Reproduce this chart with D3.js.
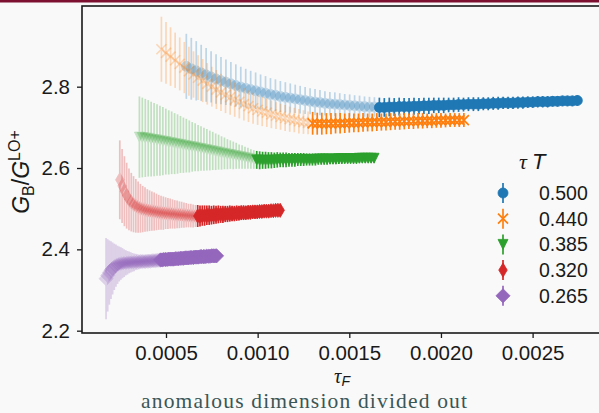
<!DOCTYPE html>
<html><head><meta charset="utf-8">
<script src="https://cdn.jsdelivr.net/npm/d3@7"></script>
<style>html,body{margin:0;padding:0;background:#f9f9f9;}svg{display:block;}</style>
</head><body>
<svg id="chart" width="599" height="413"></svg>
<script>
// ---------------- data (tau_F in units of 1e-4) ----------------
const tauTLabels = ["0.500", "0.440", "0.385", "0.320", "0.265"];
const xTicks = [0.0005, 0.0010, 0.0015, 0.0020, 0.0025];
const yTicks = [2.2, 2.4, 2.6, 2.8];
// points with tau_F >= solidFrom are drawn opaque, the others faded
const solidFrom = [16.6, 12.9, 9.9, 6.7, 4.65];

const tauF500 = [6.11,6.38,6.65,6.92,7.19,7.46,7.73,8.00,8.27,8.54,8.81,9.08,9.35,9.62,9.89,10.16,10.43,10.70,10.97,11.24,11.51,11.78,12.05,12.32,12.59,12.86,13.13,13.40,13.67,13.94,14.21,14.48,14.75,15.02,15.29,15.56,15.83,16.10,16.37,16.64,16.91,17.18,17.45,17.72,17.99,18.26,18.53,18.80,19.07,19.34,19.61,19.88,20.15,20.42,20.69,20.96,21.23,21.50,21.77,22.04,22.31,22.58,22.85,23.12,23.39,23.66,23.93,24.20,24.47,24.74,25.01,25.28,25.55,25.82,26.09,26.36,26.63,26.90,27.17,27.44];
const ratio500 = [2.850,2.844,2.839,2.834,2.829,2.824,2.819,2.815,2.811,2.807,2.803,2.799,2.796,2.793,2.790,2.787,2.784,2.781,2.779,2.776,2.774,2.772,2.770,2.768,2.766,2.764,2.762,2.761,2.759,2.758,2.757,2.756,2.755,2.754,2.753,2.752,2.751,2.750,2.750,2.749,2.749,2.750,2.750,2.751,2.751,2.751,2.752,2.752,2.753,2.753,2.754,2.754,2.754,2.755,2.755,2.756,2.756,2.757,2.757,2.757,2.758,2.758,2.759,2.759,2.760,2.760,2.760,2.761,2.761,2.762,2.762,2.763,2.763,2.763,2.764,2.764,2.765,2.765,2.765,2.766];
const err500 = [.080,.076,.073,.069,.066,.063,.061,.058,.056,.054,.052,.050,.048,.046,.045,.043,.042,.040,.039,.038,.037,.036,.035,.034,.033,.032,.032,.031,.030,.029,.029,.028,.027,.027,.026,.026,.025,.025,.024,.024,.023,.023,.022,.022,.021,.021,.021,.020,.020,.020,.019,.019,.019,.018,.018,.018,.017,.017,.017,.017,.016,.016,.016,.016,.015,.015,.015,.015,.015,.014,.014,.014,.014,.014,.013,.013,.013,.013,.013,.013];

const tauF440 = [4.75,5.00,5.25,5.50,5.75,6.00,6.25,6.50,6.75,7.00,7.25,7.50,7.75,8.00,8.25,8.50,8.75,9.00,9.25,9.50,9.75,10.00,10.25,10.50,10.75,11.00,11.25,11.50,11.75,12.00,12.25,12.50,12.75,13.00,13.25,13.50,13.75,14.00,14.25,14.50,14.75,15.00,15.25,15.50,15.75,16.00,16.25,16.50,16.75,17.00,17.25,17.50,17.75,18.00,18.25,18.50,18.75,19.00,19.25,19.50,19.75,20.00,20.25,20.50,20.75,21.00,21.25];
const ratio440 = [2.892,2.883,2.874,2.865,2.856,2.847,2.838,2.830,2.822,2.815,2.807,2.800,2.793,2.786,2.780,2.774,2.768,2.763,2.757,2.752,2.747,2.743,2.739,2.736,2.732,2.729,2.726,2.723,2.720,2.718,2.715,2.713,2.711,2.710,2.709,2.709,2.709,2.709,2.710,2.710,2.710,2.711,2.711,2.711,2.712,2.712,2.712,2.713,2.713,2.713,2.714,2.714,2.714,2.715,2.715,2.715,2.716,2.716,2.716,2.716,2.717,2.717,2.717,2.718,2.718,2.718,2.718];
const err440 = [.080,.076,.072,.068,.065,.063,.060,.057,.055,.053,.051,.049,.048,.046,.045,.043,.042,.041,.040,.039,.038,.037,.036,.035,.034,.033,.032,.032,.031,.030,.030,.029,.028,.028,.027,.027,.026,.026,.025,.025,.024,.024,.023,.023,.023,.022,.022,.022,.021,.021,.021,.020,.020,.020,.019,.019,.019,.019,.018,.018,.018,.018,.017,.017,.017,.017,.017];

const tauF385 = [3.55,3.71,3.87,4.03,4.19,4.35,4.51,4.67,4.83,4.99,5.15,5.31,5.47,5.63,5.79,5.95,6.11,6.27,6.43,6.59,6.75,6.91,7.07,7.23,7.39,7.55,7.71,7.87,8.03,8.19,8.35,8.51,8.67,8.83,8.99,9.15,9.31,9.47,9.63,9.79,9.95,10.11,10.27,10.43,10.59,10.75,10.91,11.07,11.23,11.39,11.55,11.71,11.87,12.03,12.19,12.35,12.51,12.67,12.83,12.99,13.15,13.31,13.47,13.63,13.79,13.95,14.11,14.27,14.43,14.59,14.75,14.91,15.07,15.23,15.39,15.55,15.71,15.87,16.03,16.19,16.35];
const ratio385 = [2.676,2.675,2.674,2.673,2.671,2.670,2.669,2.667,2.666,2.665,2.663,2.662,2.660,2.659,2.658,2.656,2.655,2.653,2.652,2.651,2.649,2.648,2.646,2.645,2.643,2.642,2.640,2.639,2.637,2.636,2.634,2.633,2.631,2.630,2.628,2.627,2.625,2.624,2.622,2.621,2.620,2.619,2.619,2.619,2.619,2.619,2.619,2.620,2.620,2.620,2.620,2.620,2.620,2.620,2.621,2.621,2.621,2.621,2.621,2.621,2.621,2.622,2.622,2.622,2.622,2.622,2.622,2.622,2.623,2.623,2.623,2.623,2.623,2.623,2.623,2.624,2.624,2.624,2.624,2.624,2.624];
const err385 = [.100,.098,.096,.094,.092,.090,.088,.086,.084,.081,.079,.077,.075,.073,.070,.068,.066,.064,.061,.059,.057,.055,.053,.051,.049,.047,.045,.043,.041,.039,.037,.035,.034,.032,.030,.029,.027,.026,.024,.023,.022,.022,.021,.021,.020,.020,.019,.019,.018,.018,.018,.017,.017,.017,.016,.016,.016,.015,.015,.015,.015,.014,.014,.014,.014,.013,.013,.013,.013,.013,.012,.012,.012,.012,.012,.012,.011,.011,.011,.011,.011];

const tauF320 = [2.480,2.605,2.730,2.855,2.980,3.105,3.230,3.355,3.480,3.605,3.730,3.855,3.980,4.105,4.230,4.355,4.480,4.605,4.730,4.855,4.980,5.105,5.230,5.355,5.480,5.605,5.730,5.855,5.980,6.105,6.230,6.355,6.480,6.605,6.730,6.855,6.980,7.105,7.230,7.355,7.480,7.605,7.730,7.855,7.980,8.105,8.230,8.355,8.480,8.605,8.730,8.855,8.980,9.105,9.230,9.355,9.480,9.605,9.730,9.855,9.980,10.105,10.230,10.355,10.480,10.605,10.730,10.855,10.980,11.105,11.230];
const ratio320 = [2.571,2.556,2.543,2.532,2.523,2.516,2.511,2.507,2.504,2.501,2.499,2.498,2.496,2.495,2.494,2.493,2.492,2.491,2.490,2.489,2.489,2.488,2.488,2.487,2.486,2.486,2.485,2.485,2.484,2.484,2.483,2.483,2.482,2.482,2.482,2.482,2.483,2.483,2.484,2.484,2.484,2.485,2.485,2.486,2.486,2.486,2.487,2.487,2.488,2.488,2.488,2.489,2.489,2.490,2.490,2.490,2.491,2.491,2.492,2.492,2.492,2.493,2.493,2.494,2.494,2.494,2.495,2.495,2.496,2.496,2.496];
const err320 = [.097,.091,.086,.081,.076,.072,.069,.066,.063,.060,.057,.055,.052,.050,.048,.047,.045,.043,.042,.041,.039,.038,.037,.036,.035,.034,.033,.032,.031,.030,.029,.029,.028,.027,.027,.026,.025,.025,.024,.024,.023,.023,.022,.022,.021,.021,.020,.020,.020,.019,.019,.019,.018,.018,.018,.017,.017,.017,.016,.016,.016,.016,.015,.015,.015,.015,.014,.014,.014,.014,.014];

const tauF265 = [1.73,1.82,1.91,2.00,2.09,2.18,2.27,2.36,2.45,2.54,2.63,2.72,2.81,2.90,2.99,3.08,3.17,3.26,3.35,3.44,3.53,3.62,3.71,3.80,3.89,3.98,4.07,4.16,4.25,4.34,4.43,4.52,4.61,4.70,4.79,4.88,4.97,5.06,5.15,5.24,5.33,5.42,5.51,5.60,5.69,5.78,5.87,5.96,6.05,6.14,6.23,6.32,6.41,6.50,6.59,6.68,6.77,6.86,6.95,7.04,7.13,7.22,7.31,7.40,7.49,7.58,7.67,7.76];
const ratio265 = [2.328,2.336,2.343,2.349,2.353,2.357,2.360,2.362,2.364,2.365,2.366,2.366,2.367,2.367,2.368,2.368,2.368,2.368,2.369,2.369,2.369,2.370,2.370,2.370,2.370,2.371,2.371,2.371,2.372,2.372,2.372,2.373,2.373,2.374,2.374,2.375,2.375,2.375,2.376,2.376,2.376,2.376,2.377,2.377,2.377,2.378,2.378,2.378,2.379,2.379,2.379,2.380,2.380,2.380,2.381,2.381,2.381,2.382,2.382,2.382,2.382,2.383,2.383,2.383,2.384,2.384,2.384,2.384];
const err265 = [.100,.089,.079,.071,.064,.057,.052,.047,.043,.040,.037,.034,.031,.029,.027,.025,.023,.022,.020,.019,.018,.017,.016,.015,.014,.014,.013,.012,.012,.011,.010,.010,.010,.009,.009,.008,.008,.008,.007,.007,.007,.006,.006,.006,.006,.006,.005,.005,.005,.005,.004,.004,.004,.004,.004,.004,.004,.004,.004,.003,.003,.003,.003,.003,.003,.003,.003,.003];

// ---------------- styles ----------------
const colors = ["#1f77b4", "#ff7f0e", "#2ca02c", "#d62728", "#9467bd"];
const markers = ["o", "x", "v", "d", "D"];
const fadedAlpha = 0.27;
const ms = 10;

const series = [
  [tauF500, ratio500, err500], [tauF440, ratio440, err440], [tauF385, ratio385, err385],
  [tauF320, ratio320, err320], [tauF265, ratio265, err265]
].map((a, i) => ({
  label: tauTLabels[i], color: colors[i], marker: markers[i],
  points: a[0].map((t, j) => ({ x: t * 1e-4, y: a[1][j], e: a[2][j], solid: t >= solidFrom[i] })),
  ok: a[0].length === a[1].length && a[1].length === a[2].length
}));

// ---------------- layout ----------------
const plotL = 82, plotR = 603, plotT = 6, plotB = 333;
const xScale = d3.scaleLinear().domain([0.418e-4, 28.84e-4]).range([plotL, plotR]);
const yScale = d3.scaleLinear().domain([2.1943, 2.9984]).range([plotB, plotT]);

const svg = d3.select("#chart");
svg.append("rect").attr("width", 599).attr("height", 413).attr("fill", "#f9f9f9");
svg.append("rect").attr("width", 599).attr("height", 2.5).attr("fill", "#7d1030");

svg.append("defs").append("clipPath").attr("id", "clip")
  .append("rect").attr("x", plotL).attr("y", plotT).attr("width", plotR - plotL).attr("height", plotB - plotT);

function markerPath(type, s) {
  const h = s / 2, d = 0.707 * s;
  switch (type) {
    case "o": return `M${-h},0A${h},${h} 0 1,0 ${h},0A${h},${h} 0 1,0 ${-h},0Z`;
    case "x": return `M${-h},${-h}L${h},${h}M${-h},${h}L${h},${-h}`;
    case "v": return `M${-h},${-h}L${h},${-h}L0,${h}Z`;
    case "d": return `M0,${-d}L${0.6 * d},0L0,${d}L${-0.6 * d},0Z`;
    case "D": return `M0,${-d}L${d},0L0,${d}L${-d},0Z`;
  }
}

const plot = svg.append("g").attr("clip-path", "url(#clip)");
series.forEach(s => {
  const g = plot.append("g");
  const ordered = s.points.filter(p => !p.solid).concat(s.points.filter(p => p.solid));
  const pts = g.selectAll("g.pt").data(ordered).join("g").attr("class", "pt")
    .attr("opacity", p => p.solid ? 1 : fadedAlpha);
  pts.append("line")
    .attr("x1", p => xScale(p.x)).attr("x2", p => xScale(p.x))
    .attr("y1", p => yScale(p.y - p.e)).attr("y2", p => yScale(p.y + p.e))
    .attr("stroke", s.color).attr("stroke-width", 1.7);
  const filled = s.marker !== "x";
  pts.append("path")
    .attr("d", markerPath(s.marker, ms))
    .attr("transform", p => `translate(${xScale(p.x)},${yScale(p.y)})`)
    .attr("fill", filled ? s.color : "none")
    .attr("stroke", s.color).attr("stroke-width", filled ? 0.8 : 1.7);
});

// ---------------- axes ----------------
const fontSans = "'Liberation Sans', Arial, sans-serif";
const xAxis = d3.axisBottom(xScale).tickValues(xTicks).tickFormat(d3.format(".4f"))
  .tickSize(5).tickPadding(7).tickSizeOuter(0);
const yAxis = d3.axisLeft(yScale).tickValues(yTicks).tickFormat(d3.format(".1f"))
  .tickSize(5).tickPadding(7).tickSizeOuter(0);
const gx = svg.append("g").attr("transform", `translate(0,${plotB})`).call(xAxis);
const gy = svg.append("g").attr("transform", `translate(${plotL},0)`).call(yAxis);
[gx, gy].forEach(g => {
  g.select(".domain").remove();
  g.selectAll(".tick line").attr("stroke", "#1a1a1a").attr("stroke-width", 1.3);
  g.selectAll(".tick text").attr("fill", "#1a1a1a").style("font-family", fontSans).style("font-size", "20.5px");
});
svg.append("rect").attr("x", plotL).attr("y", plotT).attr("width", plotR - plotL).attr("height", plotB - plotT)
  .attr("fill", "none").attr("stroke", "#1a1a1a").attr("stroke-width", 1.6);

// y label  G_B / G^{LO+}
const yl = svg.append("text").attr("transform", "translate(29,172) rotate(-90)")
  .attr("text-anchor", "middle").attr("fill", "#1a1a1a")
  .style("font-family", fontSans).style("font-size", "23px");
yl.append("tspan").style("font-style", "italic").text("G");
yl.append("tspan").attr("dy", 5).style("font-size", "16px").text("B");
yl.append("tspan").attr("dy", -5).text("/");
yl.append("tspan").style("font-style", "italic").text("G");
yl.append("tspan").attr("dy", -9).style("font-size", "16px").text("LO+");

// x label  tau_F
const xl = svg.append("text").attr("x", 342).attr("y", 382.5).attr("text-anchor", "middle")
  .attr("fill", "#1a1a1a").style("font-size", "20.5px");
xl.append("tspan").style("font-family", "'Liberation Serif', serif").style("font-style", "italic").text("τ");
xl.append("tspan").attr("dy", 3).style("font-family", fontSans).style("font-style", "italic").style("font-size", "14px").text("F");

// caption
svg.append("text").attr("x", 304).attr("y", 408.3).attr("text-anchor", "middle")
  .attr("textLength", 326).attr("lengthAdjust", "spacing")
  .attr("fill", "#3b5656").style("font-family", "'Liberation Serif', 'DejaVu Serif', serif").style("font-size", "21.5px")
  .text("anomalous dimension divided out");

// ---------------- legend ----------------
const lt = svg.append("text").attr("x", 519).attr("y", 169).attr("fill", "#1a1a1a").style("font-size", "22px");
lt.append("tspan").style("font-family", "'Liberation Serif', serif").style("font-style", "italic").text("τ");
lt.append("tspan").attr("dx", 5).style("font-family", fontSans).style("font-style", "italic").text("T");

const legRowY = d => 193 + d * 25.7;
const leg = svg.append("g").selectAll("g").data(series).join("g")
  .attr("transform", (s, i) => `translate(503,${legRowY(i)})`);
leg.append("line").attr("y1", -10).attr("y2", 10).attr("stroke", s => s.color).attr("stroke-width", 1.7);
leg.append("path").attr("d", s => markerPath(s.marker, ms))
  .attr("fill", s => s.marker === "x" ? "none" : s.color)
  .attr("stroke", s => s.color).attr("stroke-width", s => s.marker === "x" ? 1.7 : 0.8);
leg.append("text").attr("x", 36).attr("dy", "0.36em").attr("fill", "#1a1a1a")
  .style("font-family", fontSans).style("font-size", "19.5px").text(s => s.label);

// sanity check of array lengths
series.forEach((s, i) => { if (!s.ok) svg.append("text").attr("x", 300).attr("y", 30 + 14 * i).attr("fill", "red").text("LENGTH MISMATCH " + s.label); });
</script>
</body></html>
